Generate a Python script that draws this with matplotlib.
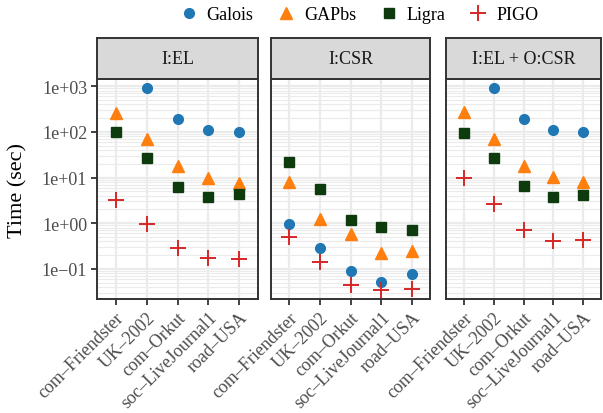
import numpy as np
import matplotlib
matplotlib.use("Agg")
import matplotlib.pyplot as plt
from matplotlib.lines import Line2D
from matplotlib.ticker import FixedLocator, NullFormatter

plt.rcParams['font.family'] = ['Liberation Serif', 'DejaVu Serif']

graphs = ["com–Friendster", "UK–2002", "com–Orkut", "soc–LiveJournal1", "road–USA"]
panels = ["I:EL", "I:CSR", "I:EL + O:CSR"]
systems = ["Galois", "GAPbs", "Ligra", "PIGO"]

# times in seconds, one list per system per panel (nan = missing)
galois = {
    "I:EL": [np.nan, 920, 190, 113, 98],
    "I:CSR": [0.98, 0.28, 0.091, 0.052, 0.076],
    "I:EL + O:CSR": [np.nan, 920, 190, 113, 100],
}
gapbs = {
    "I:EL": [265, 69, 17.5, 9.8, 7.5],
    "I:CSR": [8.1, 1.25, 0.57, 0.22, 0.25],
    "I:EL + O:CSR": [270, 71, 18, 10.5, 7.9],
}
ligra = {
    "I:EL": [98, 27, 6.2, 3.8, 4.3],
    "I:CSR": [22, 5.5, 1.19, 0.83, 0.71],
    "I:EL + O:CSR": [97, 27, 6.7, 3.7, 4.1],
}
pigo = {
    "I:EL": [3.3, 0.97, 0.29, 0.17, 0.163],
    "I:CSR": [0.49, 0.14, 0.045, 0.035, 0.036],
    "I:EL + O:CSR": [10, 2.6, 0.72, 0.40, 0.43],
}

series = [
    (galois, "Galois", dict(marker="o", color="#1f77b4", ms=7, lw=0)),
    (gapbs, "GAPbs", dict(marker="^", color="#ff7f0e", ms=8.5, lw=0)),
    (ligra, "Ligra", dict(marker="s", color="#0e3b0e", ms=7, lw=0)),
    (pigo, "PIGO", dict(marker="+", color="#d62728", ms=11, mew=1.4, lw=0)),
]

W, H = 603, 414
fig = plt.figure(figsize=(W / 100, H / 100), dpi=100)

panel_x = [(97, 258), (271, 430), (446, 601)]
top, bottom, strip_top = 80, 300, 38.5
major = [0.1, 1, 10, 100, 1000]
minor = [m * 10.0 ** e for e in range(-2, 4) for m in range(2, 10)]
border = "#333333"

for i, (name, (x0, x1)) in enumerate(zip(panels, panel_x)):
    ax = fig.add_axes([x0 / W, 1 - bottom / H, (x1 - x0) / W, (bottom - top) / H])
    ax.set_yscale("log")
    ax.set_ylim(10 ** -1.66, 10 ** 3.16)
    ax.set_xlim(-0.6, 4.6)
    ax.set_axisbelow(True)

    ax.yaxis.set_major_locator(FixedLocator(major))
    ax.yaxis.set_minor_locator(FixedLocator(minor))
    ax.yaxis.set_minor_formatter(NullFormatter())
    ax.grid(True, which="major", color="#ebebeb", lw=1.6)
    ax.grid(True, which="minor", axis="y", color="#ebebeb", lw=0.8)

    x = np.arange(len(graphs))
    for data, label, style in series:
        ax.plot(x, data[name], label=label, **style)

    ax.set_xticks(x)
    ax.set_xticklabels(graphs, rotation=45, ha="right", rotation_mode="anchor",
                       fontsize=13, color="#4d4d4d")
    ax.tick_params(which="major", length=4, width=1.3, color=border, pad=3)
    ax.tick_params(which="minor", length=0)
    if i == 0:
        ax.set_yticklabels(["1e−01", "1e+00", "1e+01", "1e+02", "1e+03"],
                           fontsize=13, color="#4d4d4d")
    else:
        ax.set_yticklabels([])
        ax.tick_params(axis="y", which="major", length=0)
    for s in ax.spines.values():
        s.set_color(border)
        s.set_linewidth(1.4)

    # facet strip
    sax = fig.add_axes([x0 / W, 1 - top / H, (x1 - x0) / W, (top - strip_top) / H])
    sax.set_facecolor("#d9d9d9")
    sax.set_xticks([])
    sax.set_yticks([])
    for s in sax.spines.values():
        s.set_color(border)
        s.set_linewidth(1.4)
    sax.text(0.5, 0.5, name, ha="center", va="center", fontsize=13,
             color="#1a1a1a", transform=sax.transAxes)

fig.text(18 / W, 1 - 190 / H, "Time (sec)", rotation=90, ha="center",
         va="center", fontsize=16)

handles = [Line2D([], [], **style) for _, _, style in series]
fig.legend(handles, systems, loc="center", bbox_to_anchor=(358 / W, 1 - 16 / H),
           ncol=4, frameon=False, fontsize=13, handletextpad=0.4,
           columnspacing=1.2, handlelength=1.2)

fig.savefig("out.png", dpi=100)
